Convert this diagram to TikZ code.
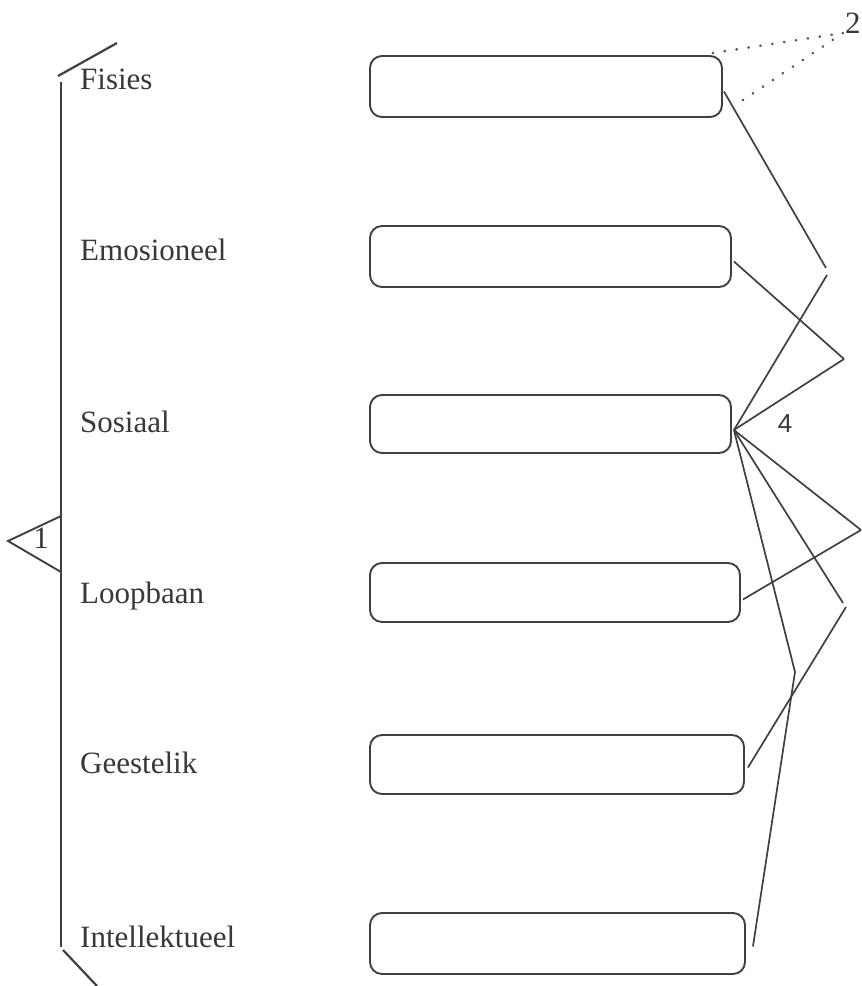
\documentclass[tikz,border=0pt]{standalone}
\usepackage{fontspec}
\setmainfont{Liberation Serif}
\newfontfamily\sansf{Liberation Sans}
\usetikzlibrary{calc}
\begin{document}
\begin{tikzpicture}[x=1pt,y=-1pt,
  ink/.style={draw=black!75, line width=1.9pt},
  box/.style={ink, rounded corners=12pt, inner sep=0pt},
  lbl/.style={anchor=base west, inner sep=0pt, text=black!78, font=\fontsize{31}{36}\selectfont},
  conn/.style={draw=black!75, line width=1.7pt},
  dots/.style={draw=black!65, line width=3pt, line cap=round, dash pattern=on 0.01pt off 12pt}]
\useasboundingbox (0,0) rectangle (862,986);
% bracket
\coordinate (bt1) at (117,43);
\coordinate (bt2) at (58,76);
\coordinate (vt) at (61,82);
\coordinate (vb) at (61,947);
\coordinate (bb1) at (63,950);
\coordinate (bb2) at (97,986);
\draw[ink, line width=2.2pt] (bt1) -- (bt2);
\draw[ink, line width=2.4pt] (vt) -- (vb);
\draw[ink, line width=2.2pt] (bb1) -- (bb2);
\coordinate (tr1) at (61,516);
\coordinate (tr2) at (8,541);
\coordinate (tr3) at (61,572);
\draw[ink] (tr1) -- (tr2) -- (tr3);
\node[lbl, anchor=base] (one) at (41,548) {1};
% labels
\node[lbl] (l1) at (80,89) {Fisies};
\node[lbl] (l2) at (80,260) {Emosioneel};
\node[lbl] (l3) at (80,432) {Sosiaal};
\node[lbl] (l4) at (80,603) {Loopbaan};
\node[lbl] (l5) at (80,773) {Geestelik};
\node[lbl] (l6) at (80,947) {Intellektueel};
% boxes
\node[box, minimum width=352pt, minimum height=61pt] (b1) at (546,86.5) {};
\node[box, minimum width=361pt, minimum height=61pt] (b2) at (550.5,256.5) {};
\node[box, minimum width=361pt, minimum height=58pt] (b3) at (550.5,424) {};
\node[box, minimum width=370pt, minimum height=59pt] (b4) at (555,592.5) {};
\node[box, minimum width=374pt, minimum height=59pt] (b5) at (557,764.5) {};
\node[box, minimum width=375pt, minimum height=61pt] (b6) at (557.5,943.5) {};
% connector vertices
\coordinate (v1a) at (826,268);
\coordinate (v1b) at (827,275);
\coordinate (v2) at (844,359);
\coordinate (v3) at (861,530);
\coordinate (v4a) at (843,603);
\coordinate (v4b) at (846,607);
\coordinate (v5) at (795,672);
\coordinate (hub) at ($(b3.east)+(2,6)$);
\draw[conn] ($(b1.east)+(1,5)$) -- (v1a);
\draw[conn] ($(b2.east)+(2,5)$) -- (v2);
\draw[conn] (hub) -- (v1b);
\draw[conn] (hub) -- (v2);
\draw[conn] (hub) -- (v3);
\draw[conn] (hub) -- (v4a);
\draw[conn] (hub) -- (v5) -- ($(b6.east)+(7,3)$);
\draw[conn] ($(b4.east)+(2,7)$) -- (v3);
\draw[conn] ($(b5.east)+(3,3)$) -- (v4b);
% dotted callout 2
\coordinate (c2) at (843,33);
\draw[dots] ($(b1.north east)+(-10,-2)$) -- (c2);
\draw[dots] ($(b1.east)+(20,13.5)$) -- (c2);
\node[lbl, anchor=base west] (two) at (845,33) {2};
\node[font=\sansf\fontsize{26}{30}\selectfont, text=black!78, anchor=base] (four) at (785,432) {4};
\end{tikzpicture}
\end{document}
